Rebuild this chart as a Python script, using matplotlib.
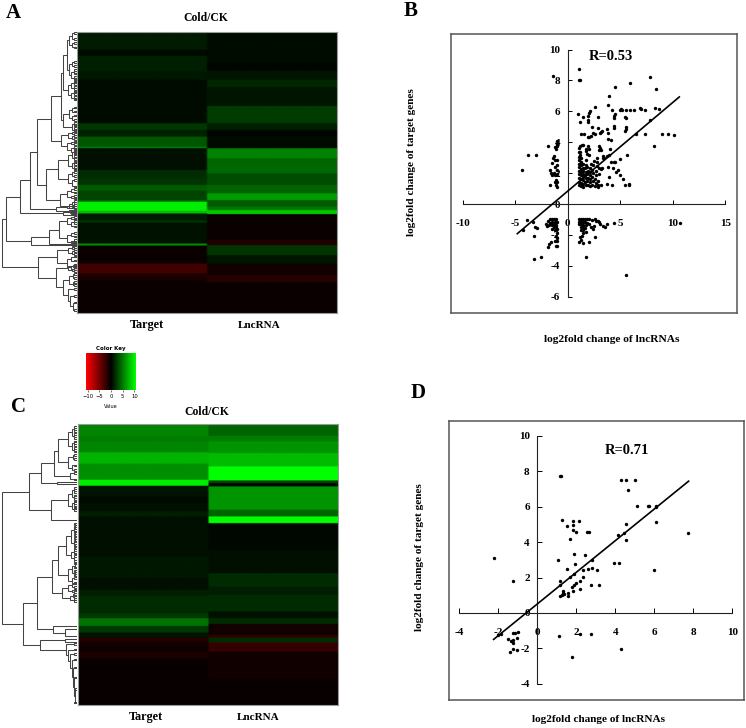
"""Cold/CK lncRNA and target heatmaps with their log2fold scatter plots."""
import matplotlib
matplotlib.use("Agg")
import matplotlib.pyplot as plt
from matplotlib.colors import LinearSegmentedColormap
import numpy as np

W, H = 746, 728
plt.rcParams["font.family"] = ["Liberation Serif", "DejaVu Serif"]

# ── Heatmap rows: run lengths and values ──────────────────────────
A_TARGET_RUNS = [53, 18, 47, 25, 130, 20, 20, 30, 5, 65, 25, 20, 17, 28, 5, 27, 8, 20, 8, 62, 6, 54, 30, 20, 98]
A_TARGET_VALS = [1.1, .5, 1.3, 1.0, .5, 2.3, 1.4, 3.6, 5, .6, 1.8, 2.2, 3.8, 2.8, 4.5, 10, 8, 1.1, 2, .7, 6, -.5, -2.7, -1.1, -.5]
A_LNC_RUNS = [93, 23, 27, 22, 56, 52, 20, 20, 35, 30, 15, 30, 35, 25, 20, 20, 10, 12, 78, 15, 30, 25, 35, 20, 93]
A_LNC_VALS = [.5, .2, .9, 1.6, .9, 2.5, 1.3, .2, .5, 5.5, 4.2, 4.4, 3.2, 4.2, 6.6, 3.8, 5, 8.5, -.5, -1.3, 2.2, .9, -.7, -1.6, -.5]

C_TARGET_RUNS = [35, 17, 33, 34, 48, 18, 32, 20, 25, 15, 120, 65, 35, 18, 52, 15, 23, 20, 14, 13, 30, 20, 140]
C_TARGET_VALS = [5.6, 5.2, 5.6, 7.5, 6, 10, .8, .5, .7, 1.3, .6, 1.0, .6, 1.3, 1.8, 2.3, 4.8, 2.3, .8, -1.5, -.7, -1.1, -.4]
C_LNC_RUNS = [35, 17, 35, 40, 42, 8, 10, 70, 20, 20, 80, 70, 40, 25, 50, 20, 17, 33, 8, 15, 27, 80, 80]
C_LNC_VALS = [4.2, 5.2, 6.2, 7.8, 11.5, 3, .4, 6.2, 4.2, 11, .3, .6, 1.8, 1.3, 1.8, .7, 1.8, -.7, -2, 1.8, -2.2, -.7, -.4]

COLUMNS = ["Target", "LncRNA"]
COLUMN_SIZES = [8.8, 8.0]
KEY_TICKS = [-10, -5, 0, 5, 10]
KEY_LABELS = ["\u221210", "\u22125", "0", "5", "10"]

# ── Dendrograms: (height, child, child); an int leaf row ends in a small
# fork, a float leaf row is a single tip ──
A_TREE = (
    223,
    (213,
     (170,
      (140,
       (118,
        (78,
         (48,
          (41,
           (30, (22, (14, 2, 20), (14, 32, 46)), (24, (14, 90, 102), (16, (8, 114, 124), (8, 134, 142)))),
           (25, (16, (9, 148, 156), (9, 164, 170)), (18, (9, 178, 186), (9, 194, 202)))),
          (41,
           (22, (13, 226, 238), (13, 250, 264)),
           (15, (8, 272, 280), (8, 288, 296)))),
         (46,
          (25, (14, 298, 306), (14, 312, 320)),
          (30, (17, 328, 336), (17, (9, 344, 350), 358)))),
        (91,
         (56,
          (25, (14, (8, 354, 364), (8, 372, 380)), (14, (8, 388, 396), (8, 404, 412))),
          (25, (14, 420, 430), (14, 442, 462))),
         (50,
          (28, (16, 470, 480), (16, 490, 498)),
          (24, (14, (7, 506, 512), 518), (14, 524, 528))))),
       (63, (30, 522.0, 528.0), (22, 533.0, 539.0))),
      (40, (20, 537.0, 541.0), (18, 545.0, 549.0))),
     (138,
      (83,
       (53,
        (30, (18, 553, 561), (18, (9, 566, 572), 582)),
        (28, (16, 602, 612), (16, (8, 622, 628), 632.0))),
       (14, 630.0, 640.0)),
      (10, 634.0, 638.0))),
    (116,
     (60,
      (25, (14, 644, 650), (14, 656, 664)),
      (28, (16, 672, 684), (18, (9, 696, 702), 710))),
     (63,
      (25, (12, 696, 704), (14, 710, 716)),
      (40,
       (22, (12, 724, 736), (12, 748, 758)),
       (26, 770, (20, 790, (12, 810, 832))))))
)

C_TREE = (
    224,
    (144,
     (107,
      (70,
       (57,
        (27, (16, (8, 8, 20), (8, 30, 42)), (16, (8, 52, 62), (8, 72, 82))),
        (27, (12, 92, 104), (14, 124, 138))),
       (22, 146, 166)),
      (60, 174.0, 180.0)),
     (77,
      (27, (16, (8, 192, 204), (8, 214, 224)), (16, (8, 232, 242), (8, 250, 258))),
      287.0)),
    (162,
     (120,
      (74,
       (57,
        (32,
         (18, (10, (5, 300, 312), (5, 322, 332)), (10, (5, 342, 352), (5, 362, 372))),
         (18, (10, 378, 388), (10, 396, 410))),
        (27, (14, (7, 418, 430), (7, 440, 452)), (14, 462, 476))),
       (45,
        (26, (14, 478, 488), (14, 496, 504)),
        (22, (12, 510, 518), (10, 524, 530)))),
      (72, 604.0, (37, 615.0, 635.0))),
     (110,
      (37, 645.0, 652.0),
      (32, 660, (28, 676, (22, 690, (16, 706, (12, 730, (8, 760, (5, 795, 835))))))))
    )
)

# ── Scatter B ─────────────────────────────────────────────────────
B_X = [
    -1.4, 1.1, 1.1, 1.2, 7.85, 5.9, 4.5, 8.4, 3.9, 3.8, 4.2,
    5.0, 5.1, 5.2, 5.6, 5.95, 6.35, 6.9, 7.0, 7.35, 8.3, 8.7, 4.5, 4.45, 4.4, 5.5, 5.55, 7.85,
    4.4, 4.45, 5.55, 5.55, 5.5,
    1.0, 1.2, 1.5, 1.9, 1.9, 1.95, 2.1, 2.05, 2.6, 2.85, 2.3, 2.9, 3.3, 3.75, 3.8,
    1.25, 1.6, 1.9, 2.05, 2.2, 2.4, 2.6, 3.1, 3.15, 3.85, 4.15,
    6.5, 7.35, 8.95, 9.6, 10.1, 8.2, 5.65,
    1.2, 1.4, 1.5, 1.1, 1.7, 1.7, 1.85, 2.0, 1.9, 2.0, 1.1, 1.15, 1.2,
    2.95, 3.1, 3.0, 3.2, 4.0, 3.9, 3.4, 3.5, 3.35, 3.7, 5.0, 4.1, 4.4, 4.5,
    1.05, 1.1, 1.05, 1.1, 1.05, 1.1, 1.05, 1.1, 1.05,
    1.25, 1.3, 1.25, 1.3, 1.25, 1.3, 1.25, 1.3, 1.25,
    1.45, 1.5, 1.45, 1.5, 1.45, 1.5, 1.45, 1.5,
    1.7, 1.65, 1.7, 1.65, 1.7, 1.65, 1.7, 1.75,
    1.9, 1.85, 1.9, 1.85, 1.9, 1.85,
    2.1, 2.15, 2.1, 2.15, 2.1, 2.15, 2.2,
    2.35, 2.4, 2.35, 2.4, 2.35, 2.45, 2.5,
    2.6, 2.65, 2.6, 2.65, 2.7, 2.75, 2.8, 2.75,
    2.9, 2.85, 3.0,
    3.85, 4.35, 4.6, 4.8, 5.0, 5.3, 3.9, 3.7, 4.2, 3.2, 2.9, 5.5, 5.85, 5.8, 3.0, 3.2, 3.3,
    -1.0, -1.0, -1.2, -1.15, -1.05, -1.9, -3.8, -3.0, -1.35, -1.4, -1.2, -1.0, -1.45, -1.2, -1.0,
    -1.7, -4.35, -1.6, -1.45, -1.3, -1.2, -1.05, -1.0, -1.7, -1.25, -1.1, -1.05, -1.0, -1.15,
    -3.9, -3.3, -4.3, -3.15, -2.95, -3.2, -2.1, -2.0, -1.15, -1.0, -1.6, -1.2, -1.0, -1.9, -1.75,
    -1.15, -1.0, -3.2, -2.5,
    -1.9, -1.7, -1.5, -1.3, -1.1, -1.65, -1.45, -1.25, -1.05, -1.75, -1.5, -1.3, -1.1, -1.35, -1.15,
    -1.0, -1.45, -1.2, -1.05,
    1.05, 1.25, 1.45, 1.65, 1.85, 1.05, 1.25, 1.45, 1.65, 1.85, 1.1, 1.3, 1.5, 1.7, 1.25, 1.45, 1.65,
    1.3, 1.5,
    2.0, 2.3, 2.6, 2.7, 2.9, 3.0, 3.1, 3.4, 3.6, 3.75, 4.45, 10.7, 2.0, 2.2, 2.4, 2.5,
    1.15, 1.3, 1.1, 1.45, 2.05, 2.6, 1.7, 1.5, 1.4, 1.75, 5.6,
]
B_Y = [
    8.3, 8.75, 8.0, 8.0, 8.25, 7.8, 7.55, 7.45, 7.0, 6.4, 6.1,
    6.1, 6.15, 6.1, 6.1, 6.1, 6.1, 6.2, 6.15, 6.1, 6.2, 6.15, 5.85, 5.7, 5.55, 5.65, 5.55, 5.45,
    5.05, 4.95, 5.0, 4.85, 4.75,
    5.85, 5.3, 5.6, 5.7, 5.45, 5.3, 6.05, 5.9, 6.25, 5.65, 5.0, 4.95, 4.75, 4.85, 4.6,
    4.55, 4.55, 4.35, 4.35, 4.4, 4.6, 4.55, 4.6, 4.65, 4.2, 4.15,
    4.5, 4.5, 4.55, 4.55, 4.45, 3.75, 3.15,
    3.75, 3.8, 3.85, 3.65, 3.55, 3.4, 3.25, 3.15, 3.75, 3.55, 3.35, 3.15, 3.35,
    3.75, 3.6, 3.5, 3.5, 3.55, 3.2, 3.1, 3.0, 2.95, 3.1, 2.9, 2.7, 2.7, 2.75,
    1.2, 1.45, 1.7, 1.95, 2.15, 2.4, 2.6, 2.85, 3.05,
    1.15, 1.35, 1.6, 1.85, 2.05, 2.25, 2.5, 2.75, 2.95,
    1.1, 1.3, 1.55, 1.75, 1.95, 2.15, 2.35, 2.6,
    1.2, 1.45, 1.7, 1.9, 2.1, 2.3, 2.55, 2.85,
    1.25, 1.5, 1.7, 1.95, 2.15, 2.4,
    1.15, 1.4, 1.6, 1.85, 2.05, 2.3, 2.6,
    1.2, 1.5, 1.75, 2.0, 2.2, 2.5, 2.8,
    1.15, 1.35, 1.65, 1.9, 2.15, 2.45, 2.75, 3.0,
    1.1, 1.25, 1.95,
    2.4, 2.3, 2.1, 2.2, 1.9, 1.65, 1.75, 1.3, 1.25, 1.25, 1.5, 1.2, 1.3, 1.25, 2.3, 2.25, 2.35,
    4.1, 3.9, 3.7, 3.55, 3.75, 3.75, 3.15, 3.15, 3.1, 2.95, 2.85, 2.85, 2.65, 2.4, 2.5,
    2.2, 2.2, 2.0, 1.9, 2.0, 1.85, 1.95, 2.2, 1.2, 1.4, 1.25, 1.1, 1.4, 1.55,
    -1.05, -1.15, -1.7, -1.5, -1.55, -2.05, -1.3, -1.45, -2.1, -2.2, -2.45, -2.4, -2.4, -2.8, -2.6,
    -2.7, -2.7, -3.55, -3.45,
    -1.1, -1.0, -1.0, -1.0, -1.0, -1.2, -1.15, -1.15, -1.15, -1.35, -1.35, -1.3, -1.35, -1.5, -1.5,
    -1.6, -1.65, -1.7, -1.85,
    -1.0, -.98, -1.0, -1.0, -1.0, -1.15, -1.15, -1.15, -1.15, -1.2, -1.3, -1.3, -1.35, -1.35, -1.5, -1.5, -1.55,
    -1.7, -1.7,
    -1.0, -1.05, -1.0, -1.1, -1.1, -1.15, -1.3, -1.4, -1.5, -1.3, -1.2, -1.25, -1.3, -1.5, -1.6, -1.4,
    -2.15, -2.3, -2.45, -2.5, -2.45, -2.15, -1.8, -1.9, -2.1, -3.45, -4.6,
]
B_FIT_X = [-4.8, 10.63]
B_FIT_Y = [-1.92, 6.93]
B_XTICKS = [-10, -5, 0, 5, 10, 15]
B_YTICKS = [-6, -4, -2, 0, 2, 4, 6, 8, 10]

# ── Scatter D ─────────────────────────────────────────────────────
D_X = [
    1.16, 1.2, 4.3, 4.55, 5.0, 4.65, 5.1, 5.68, 5.72, 6.08, 6.08, 6.1,
    1.28, 1.81, 2.12, 1.81, 1.52, 1.83, 1.97, 2.55, 2.65, 1.68, 4.55, 4.12, 4.43, 4.55, 7.74,
    -2.22, 1.88, 2.43, 1.04, 2.79, 3.93, 4.19, 1.91,
    1.52, 2.36, 2.6, 2.8, 3.08, 5.97, 1.86, 1.66, 2.36, -1.26, 1.16, 2.2, 2.0, 1.18, 1.86, 1.78,
    2.73, 3.18, 2.2, 1.81, 1.32, 1.32, 1.59, 1.59, 1.18, 1.28, 1.35,
    -2.03, -1.86, -1.26, -1.13, -1.0, -1.04, -1.5, -1.33, -1.26, -1.26, -1.23, -1.06, -1.4,
    1.11, 2.2, 2.73, 4.31, 1.79,
]
D_Y = [
    7.72, 7.72, 7.5, 7.5, 7.5, 6.95, 6.06, 6.06, 6.06, 6.06, 6.0, 5.16,
    5.23, 5.2, 5.18, 4.95, 4.93, 4.7, 4.55, 4.55, 4.55, 4.18, 5.03, 4.4, 4.54, 4.1, 4.5,
    3.1, 3.31, 3.28, 2.98, 2.98, 2.84, 2.84, 2.79,
    2.5, 2.41, 2.5, 2.54, 2.41, 2.41, 2.22, 2.03, 2.03, 1.79, 1.79, 1.79, 1.69, 1.56, 1.56, 1.47,
    1.56, 1.56, 1.34, 1.24, 1.24, 1.13, 1.13, .98, .96, 1.0, 1.05,
    -1.26, -1.17, -1.11, -1.11, -1.07, -1.39, -1.47, -1.58, -1.5, -1.68, -2.01, -2.07, -2.2,
    -1.32, -1.2, -1.2, -2.01, -2.49,
]
D_FIT_X = [-2.24, 7.76]
D_FIT_Y = [-1.49, 7.44]
D_XTICKS = [-4, -2, 0, 2, 4, 6, 8, 10]
D_YTICKS = [-4, -2, 0, 2, 4, 6, 8, 10]

RG = LinearSegmentedColormap.from_list("rg", ["#ff0000", "#000000", "#00ff00"])
VMAX = 10.7

fig = plt.figure(figsize=(W / 100, H / 100), dpi=100)


def px_axes(left, top, right, bottom):
    return fig.add_axes([left / W, 1 - bottom / H, (right - left) / W, (bottom - top) / H])


def px_text(x, y, s, **kw):
    kw.setdefault("ha", "center")
    kw.setdefault("va", "center")
    kw.setdefault("fontweight", "bold")
    fig.text(x / W, 1 - y / H, s, **kw)


def draw_tree(ax, node):
    if isinstance(node, float):
        return 0, node
    if isinstance(node, int):
        # every int leaf is a tight pair of rows
        node = (8, float(node - 2.5), float(node + 2.5))
    h, a, b = node
    ha, ya = draw_tree(ax, a)
    hb, yb = draw_tree(ax, b)
    ax.plot([ha, h, h, hb], [ya, ya, yb, yb], color="#444444", lw=0.75, solid_joinstyle="miter")
    return h, (ya + yb) / 2


def heatmap(box, target, lnc, tree):
    left, top, right, bottom = box
    rows = np.column_stack([target, lnc])
    ax = px_axes(left, top, right, bottom)
    ax.imshow(np.repeat(rows, 60, axis=1), cmap=RG, vmin=-VMAX, vmax=VMAX,
              aspect="auto", interpolation="bilinear")
    ax.set_xticks([])
    ax.set_yticks([])
    for s in ax.spines.values():
        s.set_color("#9a9a9a")
        s.set_linewidth(0.8)
    dn = px_axes(0, top, left - 0.5, bottom)
    draw_tree(dn, tree)
    dn.set_xlim(left * 3 - 1, 0)
    dn.set_ylim(len(rows), 0)
    dn.axis("off")


def scatter(box, x0, y0, sx, sy, xs, ys, fit_x, fit_y, xticks, yticks, tick_len):
    left, top, right, bottom = box
    frame = px_axes(left, top, right, bottom)
    frame.set_xticks([])
    frame.set_yticks([])
    for s in frame.spines.values():
        s.set_color("#555555")
        s.set_linewidth(1.1)
    ax = px_axes(left, top, right, bottom)
    ax.patch.set_alpha(0)
    ax.set_xlim((left - x0) / sx, (right - x0) / sx)
    ax.set_ylim((y0 - bottom) / sy, (y0 - top) / sy)
    ax.spines["top"].set_visible(False)
    ax.spines["right"].set_visible(False)
    for side, ticks in (("bottom", xticks), ("left", yticks)):
        ax.spines[side].set_position(("data", 0))
        ax.spines[side].set_bounds(ticks[0], ticks[-1])
        ax.spines[side].set_linewidth(0.8)
        ax.spines[side].set_color("#222222")
    ax.set_xticks(xticks, [str(t) for t in xticks], fontsize=8, fontweight="bold")
    ax.set_yticks(yticks, [str(t) for t in yticks], fontsize=8, fontweight="bold")
    ax.tick_params(axis="x", direction="in", length=tick_len, width=0.7, pad=10.5)
    ax.tick_params(axis="y", direction="in", length=tick_len, width=0.7, pad=5.5)
    ax.scatter(xs, ys, s=6, color="black", linewidths=0, zorder=3, clip_on=False)
    ax.plot(fit_x, fit_y, color="black", lw=1.2, zorder=4)


# ── Heatmaps ──────────────────────────────────────────────────────
heatmap((77, 32, 337, 313),
        np.repeat(A_TARGET_VALS, A_TARGET_RUNS), np.repeat(A_LNC_VALS, A_LNC_RUNS), A_TREE)
heatmap((77.5, 424, 338, 705),
        np.repeat(C_TARGET_VALS, C_TARGET_RUNS), np.repeat(C_LNC_VALS, C_LNC_RUNS), C_TREE)

# ── Colour key ────────────────────────────────────────────────────
key = px_axes(86, 353, 136, 390)
key.imshow(np.linspace(-VMAX, VMAX, 256)[None, :], cmap=RG, vmin=-VMAX, vmax=VMAX,
           aspect="auto", extent=(-VMAX, VMAX, 0, 1))
key.set_yticks([])
key.set_xticks(KEY_TICKS, KEY_LABELS, fontsize=3.8, family=["DejaVu Sans"])
key.tick_params(axis="x", length=1.5, width=0.4, pad=1.5)
for s in key.spines.values():
    s.set_visible(False)
px_text(111, 348, "Color Key", fontsize=4, family=["DejaVu Sans"])
px_text(111, 407, "Value", fontsize=3.6, family=["DejaVu Sans"], fontweight="normal")

# ── Scatters ──────────────────────────────────────────────────────
scatter((451, 34, 737, 313), 567.7, 204, 10.5, 15.45, B_X, B_Y, B_FIT_X, B_FIT_Y, B_XTICKS, B_YTICKS, 3)
scatter((448.5, 421, 743.5, 700), 537.3, 613, 19.5, 17.72, D_X, D_Y, D_FIT_X, D_FIT_Y, D_XTICKS, D_YTICKS, 3.4)

# ── Text ──────────────────────────────────────────────────────────
px_text(13, 13, "A", fontsize=15)
px_text(19, 407, "C", fontsize=15)
px_text(411, 11, "B", fontsize=15)
px_text(418, 393, "D", fontsize=15)

px_text(206, 18, "Cold/CK", fontsize=8.4)
px_text(207, 412, "Cold/CK", fontsize=8.4)
for y, xs in ((325, (147, 259)), (717, (146, 258))):
    for x, name, size in zip(xs, COLUMNS, COLUMN_SIZES):
        px_text(x, y, name, fontsize=size)

px_text(611, 57, "R=0.53", fontsize=10.5)
px_text(627, 451, "R=0.71", fontsize=10.5)
px_text(612, 340, "log2fold change of lncRNAs", fontsize=8.2)
px_text(411, 162, "log2fold change of target genes", fontsize=8.1, rotation=90)
px_text(599, 720, "log2fold change of lncRNAs", fontsize=8.1)
px_text(419, 557, "log2fold change of target genes", fontsize=8.1, rotation=90)

fig.savefig("out.png", dpi=100)
